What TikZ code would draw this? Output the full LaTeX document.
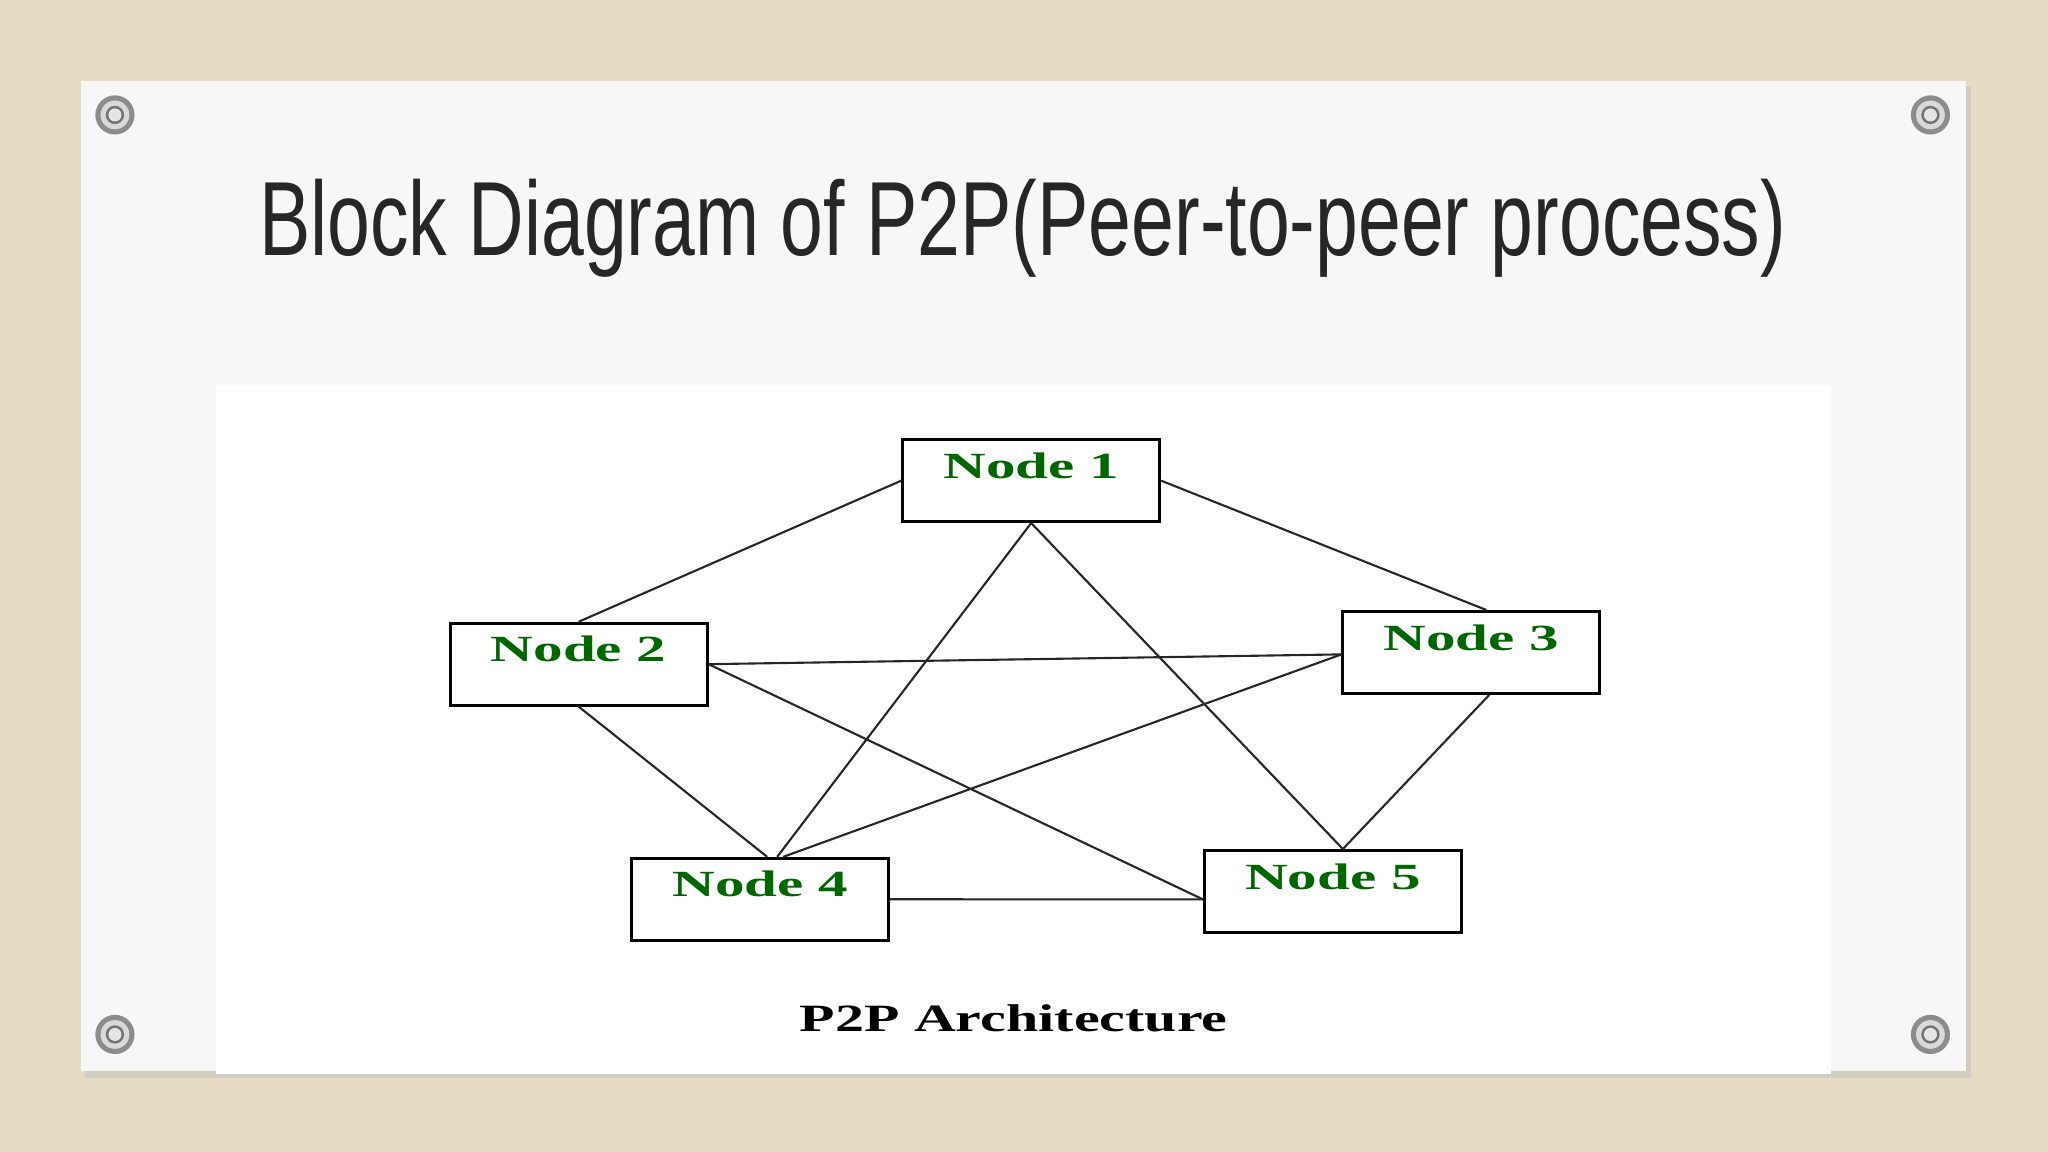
\documentclass[tikz,border=0pt]{standalone}
\usepackage{fontspec}
\setmainfont{Liberation Serif}
\newfontfamily\titlefont{Liberation Sans}
\definecolor{bgc}{HTML}{E6DCC4}
\begin{document}
\begin{tikzpicture}[x=0.013061cm,y=-0.013061cm,
  box/.style={draw=black,line width=0.8pt,minimum width=2.57cm,minimum height=0.82cm,inner sep=0pt,fill=white},
  lab/.style={text=green!40!black,font=\bfseries\fontsize{10.5}{10.5}\selectfont,xscale=1.6},
  wire/.style={draw=black!85,line width=0.6pt}]
\useasboundingbox (0,0) rectangle (1568,882);
\fill[bgc] (0,0) rectangle (1568,882);
\fill[black!25,opacity=0.5] (65,66) rectangle (1509,825);
\fill[white!97!black] (62,62) rectangle (1505,820);
\fill[white] (165,295) rectangle (1402,822);
\foreach \p/\q in {88/88,1478/88,88/792,1478/792}{
  \fill[black!45] (\p,\q) circle (15);
  \fill[black!15] (\p,\q) circle (11);
  \fill[black!55] (\p,\q) circle (7);
  \fill[black!10] (\p,\q) circle (5);
}
\node[font=\titlefont\fontsize{30}{30}\selectfont,text=black!85,xscale=0.73] (title) at (783,175) {Block Diagram of P2P(Peer-to-peer process)};
\node[box] (n1) at (789.5,368) {};
\node[box] (n2) at (443,508.5) {};
\node[box] (n3) at (1126.5,499.5) {};
\node[box] (n4) at (582,688.5) {};
\node[box] (n5) at (1020.5,682.5) {};
\foreach \n/\t in {n1/Node 1,n2/Node 2,n3/Node 3,n4/Node 4,n5/Node 5}
  \node[lab,anchor=north] (\n t) at ([yshift=-0.02cm]\n.north) {\t};
\draw[wire] (n1.west) -- (n2.north);
\draw[wire] (n1.east) -- ([xshift=0.15cm]n3.north);
\draw[wire] (n1.south) -- ([xshift=0.17cm]n4.north);
\draw[wire] (n1.south) -- ([xshift=0.1cm]n5.north);
\draw[wire] (n2.east) -- ([yshift=-0.02cm]n3.west);
\draw[wire] (n2.east) -- ([yshift=-0.08cm]n5.west);
\draw[wire] (n2.south) -- ([xshift=0.07cm]n4.north);
\draw[wire] ([yshift=-0.02cm]n3.west) -- ([xshift=0.23cm]n4.north);
\draw[wire] ([xshift=0.18cm]n3.south) -- ([xshift=0.1cm]n5.north);
\draw[wire] (n4.east) -- ([yshift=-0.08cm]n5.west);
\node[font=\bfseries\fontsize{11}{11}\selectfont,xscale=1.5] (cap) at (776,780) {P2P Architecture};
\end{tikzpicture}
\end{document}
